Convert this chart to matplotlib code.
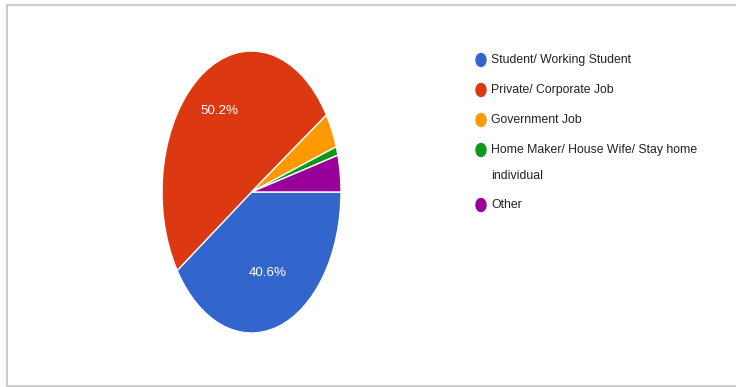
import matplotlib
matplotlib.use("Agg")
import matplotlib.pyplot as plt
import numpy as np
from matplotlib.patches import Ellipse
from matplotlib.lines import Line2D

categories = ["Student/ Working Student", "Private/ Corporate Job", "Government Job",
              "Home Maker/ House Wife/ Stay home\nindividual", "Other"]
values = [40.6, 50.2, 4.0, 1.0, 4.2]
colors = ["#3366cc", "#dc3912", "#ff9900", "#109618", "#990099"]
shown_labels = ["40.6%", "50.2%", "", "", ""]

FONT = "Liberation Sans"

W, H = 736, 387
fig = plt.figure(figsize=(W / 100, H / 100), dpi=100)
fig.patch.set_facecolor("white")

# pie axes (stretched to an ellipse like the reference)
left, right, top, bottom = 162, 341, 51, 333
ax = fig.add_axes([left / W, 1 - bottom / H, (right - left) / W, (bottom - top) / H])
wedges, _ = ax.pie(values, colors=colors, startangle=0, counterclock=False,
                   wedgeprops=dict(edgecolor="white", linewidth=1.0))
ax.set_aspect("auto")
ax.set_xlim(-1, 1)
ax.set_ylim(-1, 1)
ax.axis("off")

# percentage labels inside the big slices
cum = 0.0
total = sum(values)
for v, lab in zip(values, shown_labels):
    mid = cum + v / 2
    cum += v
    if not lab:
        continue
    ang = np.deg2rad(-mid / total * 360)
    r = 0.64
    ax.text(r * np.cos(ang), r * np.sin(ang) + 0.04, lab, color="white", fontsize=9.6,
            family=FONT, ha="center", va="center")

# background overlay axes in pixel coordinates: frame
ov = fig.add_axes([0, 0, 1, 1], zorder=-1)
ov.set_xlim(0, W)
ov.set_ylim(H, 0)
ov.axis("off")
ov.patch.set_alpha(0)
fc = "#cccccc"
ov.add_line(Line2D([7, 7], [4.5, 385.5], color=fc, lw=1.5))
ov.add_line(Line2D([7, W], [4.5, 4.5], color=fc, lw=1.5))
ov.add_line(Line2D([7, W], [385.5, 385.5], color=fc, lw=1.5))

# legend overlay
ov2 = fig.add_axes([0, 0, 1, 1])
ov2.set_xlim(0, W)
ov2.set_ylim(H, 0)
ov2.axis("off")
ov2.patch.set_alpha(0)
ys = [60, 90, 120, 150, 205]
for y, c, lab in zip(ys, colors, categories):
    ov2.add_patch(Ellipse((481, y), 10, 13, color=c))
    for i, line in enumerate(lab.split("\n")):
        ov2.text(491, y + 26 * i, line, fontsize=8.8, family=FONT, color="#222222",
                 ha="left", va="center")

fig.savefig("out.png", dpi=100)
